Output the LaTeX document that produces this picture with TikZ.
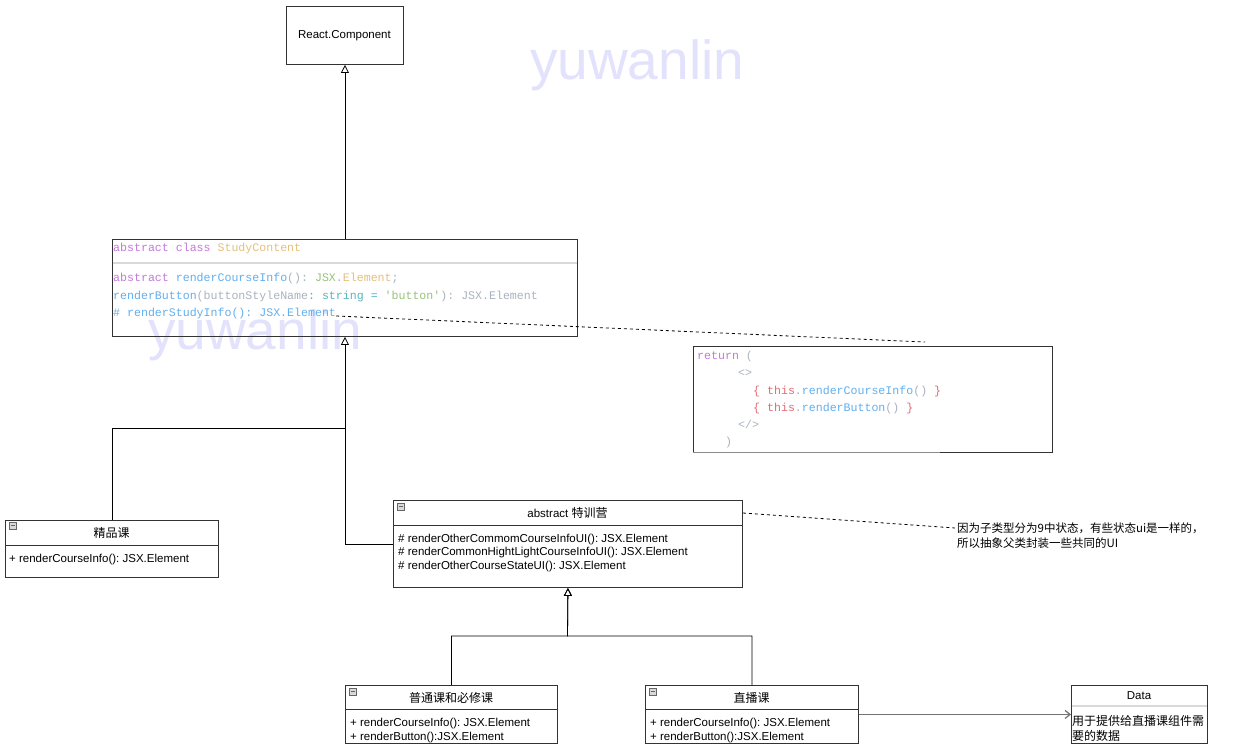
\documentclass[tikz,border=0pt]{standalone}
\usepackage{fontspec}
\setmainfont{Liberation Sans}
\newfontfamily\cjk{Noto Sans CJK SC}
\newfontfamily\codefont{Liberation Mono}
\usetikzlibrary{arrows.meta}
\definecolor{kw}{RGB}{198,120,221}
\definecolor{cls}{RGB}{229,192,123}
\definecolor{fn}{RGB}{97,175,239}
\definecolor{gr}{RGB}{152,195,121}
\definecolor{pn}{RGB}{171,178,191}
\definecolor{tl}{RGB}{86,182,194}
\definecolor{rd}{RGB}{224,108,117}
\definecolor{wm}{RGB}{226,226,252}
\definecolor{bd}{RGB}{51,51,51}
\frenchspacing
\begin{document}
\begin{tikzpicture}[x=1pt,y=-1pt,
  box/.style={draw=bd, line width=0.9pt, anchor=north west, inner sep=0pt, rectangle},
  txt/.style={inner sep=0pt, font=\fontsize{11.5}{13}\selectfont, anchor=base west},
  ctxt/.style={inner sep=0pt, font=\fontsize{11.5}{13}\selectfont, anchor=base},
  cjktxt/.style={inner sep=0pt, font=\cjk\fontsize{12}{14}\selectfont, anchor=base west},
  code/.style={inner sep=0pt, font=\codefont\fontsize{11.6}{13}\selectfont\frenchspacing, anchor=base west},
  inh/.style={-{Triangle[open,length=8pt,width=8pt]}, line width=0.8pt, draw=black},
  wmark/.style={text=wm, font=\fontsize{55}{60}\selectfont, inner sep=0pt, anchor=base west},
  divider/.style={draw=bd, line width=0.8pt},
  lightdiv/.style={draw=black!15, line width=1.5pt},
  note/.style={dash pattern=on 3pt off 3pt, line width=0.8pt},
  icon/.style={draw=black!60, fill=black!15, line width=0.5pt}
]
\useasboundingbox[fill=white] (0,0) rectangle (1251,752);

% watermarks
\node[wmark] (wm1) at (530,80) {yuwanlin};
\node[wmark] (wm2) at (148,349) {yuwanlin};

% React.Component
\node[box, minimum width=117pt, minimum height=58pt] (rc) at (286,6) {};
\node[ctxt] (rct) at (344.5,39) {React.Component};

% StudyContent
\node[box, minimum width=465pt, minimum height=97pt] (sc) at (112,239) {};
\draw[lightdiv] (112.5,263) -- (576.5,263);
\node[code] (sc0) at (113,251) {\textcolor{kw}{abstract class} \textcolor{cls}{StudyContent}};
\node[code] (sc1) at (113,281) {\textcolor{kw}{abstract} \textcolor{fn}{renderCourseInfo}\textcolor{pn}{():} \textcolor{gr}{JSX}\textcolor{pn}{.}\textcolor{cls}{Element}\textcolor{pn}{;}};
\node[code] (sc2) at (113,299) {\textcolor{fn}{renderButton}\textcolor{pn}{(buttonStyleName}\textcolor{tl}{:} \textcolor{tl}{string} \textcolor{tl}{=} \textcolor{gr}{'button'}\textcolor{pn}{): JSX.Element}};
\node[code] (sc3) at (113,316) {\textcolor{fn}{\# renderStudyInfo(): JSX.Element}};

% return box
\node[box, minimum width=359pt, minimum height=106pt] (ret) at (693,346) {};
\draw[draw=black!45, line width=0.9pt] (693,452) -- (940,452);
\node[code] (r0) at (697,359) {\textcolor{kw}{return} \textcolor{pn}{(}};
\node[code] (r1) at (738,376) {\textcolor{pn}{<>}};
\node[code] (r2) at (753,394) {\textcolor{rd}{\{ this}\textcolor{pn}{.}\textcolor{fn}{renderCourseInfo}\textcolor{pn}{()} \textcolor{rd}{\}}};
\node[code] (r3) at (753,411) {\textcolor{rd}{\{ this}\textcolor{pn}{.}\textcolor{fn}{renderButton}\textcolor{pn}{()} \textcolor{rd}{\}}};
\node[code] (r4) at (738,428) {\textcolor{pn}{</>}};
\node[code] (r5) at (725,445) {\textcolor{pn}{)}};

% 精品课
\node[box, minimum width=213pt, minimum height=57pt] (jp) at (5,520) {};
\draw[divider] (5,545) -- (218,545);
\draw[icon] (9,522) rectangle (16,529); \draw[black!60, line width=0.6pt] (10.5,525.5) -- (14.5,525.5);
\node[ctxt, font=\cjk\fontsize{12}{14}\selectfont] (jpt) at (111.5,537) {精品课};
\node[txt] (jp1) at (9,562) {+ renderCourseInfo(): JSX.Element};

% 特训营
\node[box, minimum width=349pt, minimum height=87pt] (tx) at (393,500) {};
\draw[divider] (393,525) -- (742,525);
\draw[icon] (397,503) rectangle (404,510); \draw[black!60, line width=0.6pt] (398.5,506.5) -- (402.5,506.5);
\node[ctxt] (txt0) at (567.5,517) {abstract {\cjk\fontsize{12}{14}\selectfont 特训营}};
\node[txt] (tx1) at (398,542) {\# renderOtherCommomCourseInfoUI(): JSX.Element};
\node[txt] (tx2) at (398,555) {\# renderCommonHightLightCourseInfoUI(): JSX.Element};
\node[txt] (tx3) at (398,569) {\# renderOtherCourseStateUI(): JSX.Element};

% note
\node[cjktxt, font=\cjk\fontsize{11.5}{14}\selectfont] (nt1) at (957,532) {因为子类型分为9中状态，有些状态ui是一样的，};
\node[cjktxt, font=\cjk\fontsize{11.5}{14}\selectfont] (nt2) at (957,547) {所以抽象父类封装一些共同的UI};

% 普通课和必修课
\node[box, minimum width=212pt, minimum height=58pt] (pt) at (345,685) {};
\draw[divider] (345,709) -- (557,709);
\draw[icon] (349,688) rectangle (356,695); \draw[black!60, line width=0.6pt] (350.5,691.5) -- (354.5,691.5);
\node[ctxt, font=\cjk\fontsize{12}{14}\selectfont] (ptt) at (451,702) {普通课和必修课};
\node[txt] (pt1) at (350,726) {+ renderCourseInfo(): JSX.Element};
\node[txt] (pt2) at (350,740) {+ renderButton():JSX.Element};

% 直播课
\node[box, minimum width=213pt, minimum height=58pt] (zb) at (645,685) {};
\draw[divider] (645,709) -- (858,709);
\draw[icon] (649,688) rectangle (656,695); \draw[black!60, line width=0.6pt] (650.5,691.5) -- (654.5,691.5);
\node[ctxt, font=\cjk\fontsize{12}{14}\selectfont] (zbt) at (751.5,702) {直播课};
\node[txt] (zb1) at (650,726) {+ renderCourseInfo(): JSX.Element};
\node[txt] (zb2) at (650,740) {+ renderButton():JSX.Element};

% Data
\node[box, minimum width=136pt, minimum height=58pt] (data) at (1071,685) {};
\draw[lightdiv] (1071.5,706) -- (1206.5,706);
\node[ctxt] (dt) at (1139,699) {Data};
\node[cjktxt] (d1) at (1072,725) {用于提供给直播课组件需};
\node[cjktxt] (d2) at (1072,740) {要的数据};

% connectors
\draw[inh] (sc.north) -- (rc.south);
\coordinate (j1) at (344.5,428);
\draw[line width=0.8pt] (jp.north) |- (j1);
\draw[inh] (tx.west) -| (sc.south);
\coordinate (j2) at (567.5,636);
\draw[inh] (pt.north) |- (j2) -- (tx.south);
\draw[inh] (zb.north) |- (j2) -- (tx.south);
\draw[draw=black!55, line width=1.2pt, -{Straight Barb[length=5pt,width=8pt]}] (zb.east) -- (data.west);

\coordinate (n1) at (925,342);
\draw[note] (sc3.base east) -- (n1);
\coordinate (n2) at (955,528);
\draw[note] ([yshift=-13pt]tx.north east) -- (n2);
\end{tikzpicture}
\end{document}
